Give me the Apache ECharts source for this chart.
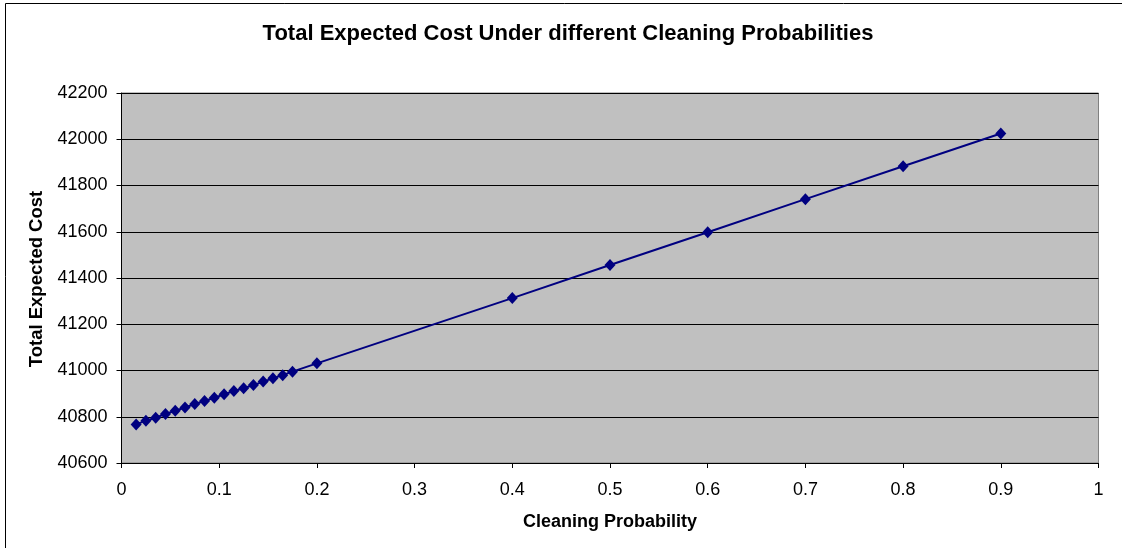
<!DOCTYPE html>
<html>
<head>
<meta charset="utf-8">
<script src="https://cdn.jsdelivr.net/npm/echarts@6/dist/echarts.min.js"></script>
<style>
  html, body { margin: 0; padding: 0; background: #fff; }
  #chart { width: 1122px; height: 548px; }
</style>
</head>
<body>
<div id="chart"></div>
<script>
// Cleaning probability (x) and the total expected cost at each probability (y)
const cleaningProbability = [
  0.015, 0.025, 0.035, 0.045, 0.055, 0.065, 0.075, 0.085, 0.095,
  0.105, 0.115, 0.125, 0.135, 0.145, 0.155, 0.165, 0.175,
  0.2, 0.4, 0.5, 0.6, 0.7, 0.8, 0.9
];
const totalExpectedCost = [
  40767, 40783, 40796, 40812, 40826, 40840, 40855, 40868, 40882,
  40897, 40911, 40923, 40937, 40952, 40966, 40980, 40995,
  41031, 41313, 41456, 41598, 41741, 41883, 42025
];
const titleText = 'Total Expected Cost Under different Cleaning Probabilities';
const xAxisName = 'Cleaning Probability';
const yAxisName = 'Total Expected Cost';

const FONT = '"Liberation Sans", Arial, sans-serif';
const chart = echarts.init(document.getElementById('chart'));

const points = cleaningProbability.map((p, i) => [p, totalExpectedCost[i]]);

chart.setOption({
  animation: false,
  backgroundColor: '#ffffff',
  graphic: [
    {
      type: 'rect',
      shape: { x: 5.5, y: 3.5, width: 1200, height: 700 },
      style: { fill: 'none', stroke: '#000', lineWidth: 1 },
      silent: true,
      z: 100
    },
    {
      type: 'text',
      x: 568, y: 34,
      style: {
        text: titleText,
        font: 'bold 22px ' + FONT,
        fill: '#000',
        textAlign: 'center',
        textVerticalAlign: 'middle'
      },
      silent: true
    },
    {
      type: 'text',
      x: 610, y: 522,
      style: {
        text: xAxisName,
        font: 'bold 18px ' + FONT,
        fill: '#000',
        textAlign: 'center',
        textVerticalAlign: 'middle'
      },
      silent: true
    },
    {
      type: 'text',
      x: 37, y: 279,
      rotation: Math.PI / 2,
      style: {
        text: yAxisName,
        font: 'bold 18.5px ' + FONT,
        fill: '#000',
        textAlign: 'center',
        textVerticalAlign: 'middle'
      },
      silent: true
    }
  ],
  grid: {
    left: 121.5, right: 23.5, top: 93, bottom: 85,
    show: true,
    backgroundColor: '#c0c0c0',
    borderColor: '#808080',
    borderWidth: 1
  },
  xAxis: {
    type: 'value',
    min: 0, max: 1, interval: 0.1,
    axisLine: { show: true, onZero: false, lineStyle: { color: '#000', width: 1 } },
    axisTick: { show: true, inside: false, length: 5, lineStyle: { color: '#000' } },
    axisLabel: { color: '#000', fontSize: 18, fontFamily: FONT, margin: 18 },
    splitLine: { show: false }
  },
  yAxis: {
    type: 'value',
    min: 40600, max: 42200, interval: 200,
    axisLine: { show: true, lineStyle: { color: '#000', width: 1 } },
    axisTick: { show: true, inside: false, length: 5, lineStyle: { color: '#000' } },
    axisLabel: {
      color: '#000', fontSize: 18, fontFamily: FONT, margin: 14,
      formatter: (v) => String(v)
    },
    splitLine: { show: true, lineStyle: { color: '#000', width: 1 } }
  },
  series: [{
    type: 'line',
    data: points,
    symbol: 'diamond',
    symbolSize: [11, 12],
    itemStyle: { color: '#000080' },
    lineStyle: { color: '#000080', width: 2 }
  }]
});
</script>
</body>
</html>
